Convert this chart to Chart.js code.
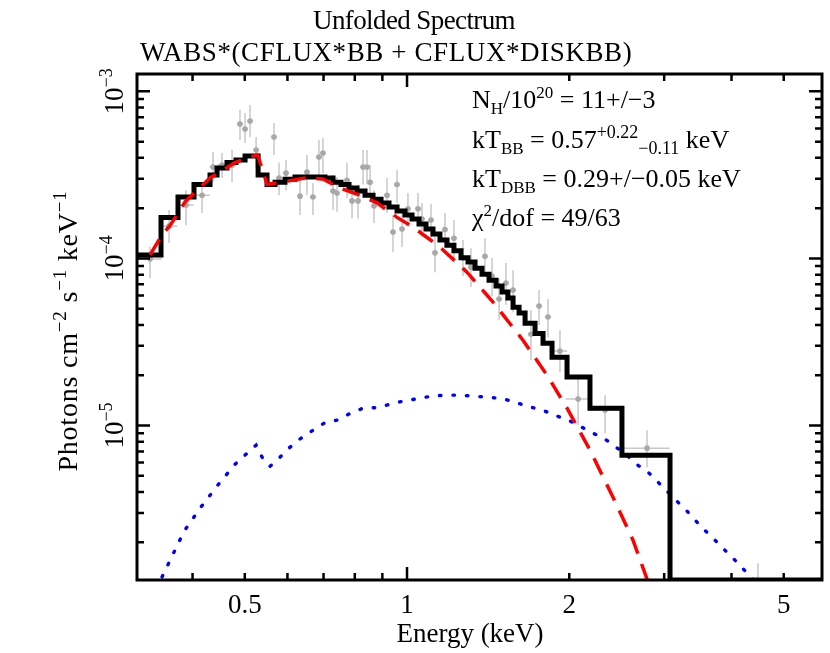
<!DOCTYPE html>
<html>
<head>
<meta charset="utf-8">
<title>Unfolded Spectrum</title>
<script src="https://cdn.jsdelivr.net/npm/chart.js@4.4.0/dist/chart.umd.min.js"></script>
<style>
    html, body { margin: 0; padding: 0; background: #ffffff; }
    canvas { display: block; }
</style>
</head>
<body>
<canvas id="spectrum-chart" width="830" height="653"></canvas>
<script>
// Data points (keV, photons cm^-2 s^-1 keV^-1)
var dataE = [0.3336, 0.3618, 0.3890, 0.4166, 0.4366, 0.4536, 0.4735, 0.4899, 0.5006, 0.5114,
    0.5248, 0.5665, 0.5788, 0.5963, 0.6331, 0.6521, 0.6690, 0.6864, 0.6983, 0.7291,
    0.7415, 0.7738, 0.7906, 0.8111, 0.8288, 0.8428, 0.8540, 0.8685, 0.9182, 0.9419,
    0.9582, 0.9789, 1.004, 1.048, 1.066, 1.108, 1.127, 1.176, 1.222, 1.270,
    1.314, 1.395, 1.438, 1.482, 1.526, 1.573, 1.698, 1.758, 1.826, 1.922,
    2.077, 2.331, 2.788, 4.479];
var dataEHalf = [0.017, 0.013, 0.013, 0.014, 0.0066, 0.0097, 0.009, 0.0064, 0.0065, 0.0066,
    0.0068, 0.0074, 0.0075, 0.0078, 0.0082, 0.0085, 0.0087, 0.0089, 0.0091, 0.0095,
    0.0096, 0.010, 0.010, 0.0105, 0.0108, 0.011, 0.011, 0.0113, 0.012, 0.0122,
    0.0125, 0.0127, 0.013, 0.0136, 0.0139, 0.0144, 0.0147, 0.0153, 0.0159, 0.0165,
    0.0171, 0.0181, 0.0187, 0.0193, 0.0198, 0.0204, 0.022, 0.0229, 0.0237, 0.062,
    0.106, 0.16, 0.285, 1.4];
var dataF = [9.91e-5, 1.56e-4, 2.09e-4, 2.39e-4, 3.52e-4, 3.62e-4, 3.62e-4, 6.37e-4, 5.95e-4, 6.65e-4,
    4.46e-4, 5.33e-4, 3.03e-4, 3.24e-4, 2.36e-4, 3.29e-4, 2.33e-4, 4.05e-4, 4.28e-4, 2.53e-4,
    2.46e-4, 2.94e-4, 2.21e-4, 2.21e-4, 3.52e-4, 3.52e-4, 2.86e-4, 2.06e-4, 2.39e-4, 1.44e-4,
    2.77e-4, 1.50e-4, 1.98e-4, 1.98e-4, 1.72e-4, 1.70e-4, 1.08e-4, 1.49e-4, 1.32e-4, 1.005e-4,
    8.87e-5, 1.03e-4, 7.84e-5, 5.71e-5, 7.13e-5, 6.47e-5, 3.52e-5, 5.19e-5, 4.46e-5, 2.79e-5,
    1.44e-5, 1.24e-5, 7.32e-6, 6.8e-7];
var dataLo = [7.62e-5, 1.24e-4, 1.58e-4, 1.87e-4, 2.86e-4, 3.03e-4, 2.86e-4, 5.11e-4, 4.91e-4, 5.33e-4,
    3.52e-4, 4.16e-4, 2.39e-4, 2.56e-4, 1.82e-4, 2.39e-4, 1.82e-4, 2.94e-4, 3.24e-4, 1.95e-4,
    1.90e-4, 2.30e-4, 1.74e-4, 1.74e-4, 2.77e-4, 2.77e-4, 2.24e-4, 1.63e-4, 1.87e-4, 1.09e-4,
    2.15e-4, 1.17e-4, 1.56e-4, 1.56e-4, 1.34e-4, 1.32e-4, 8.28e-5, 1.15e-4, 1.005e-4, 7.84e-5,
    6.74e-5, 7.84e-5, 5.95e-5, 4.27e-5, 5.26e-5, 4.77e-5, 2.46e-5, 3.99e-5, 3.38e-5, 2.09e-5,
    1.005e-5, 9.00e-6, 5.63e-6, 1e-7];
var dataHi = [1.17e-4, 1.95e-4, 2.56e-4, 2.77e-4, 4.33e-4, 4.28e-4, 4.46e-4, 7.73e-4, 7.42e-4, 8.29e-4,
    5.33e-4, 6.46e-4, 3.75e-4, 3.88e-4, 2.94e-4, 4.16e-4, 2.83e-4, 5.11e-4, 5.26e-4, 3.16e-4,
    3.07e-4, 3.75e-4, 2.77e-4, 2.77e-4, 4.46e-4, 4.46e-4, 3.62e-4, 2.56e-4, 3.03e-4, 1.82e-4,
    3.38e-4, 1.90e-4, 2.46e-4, 2.46e-4, 2.15e-4, 2.12e-4, 1.42e-4, 1.87e-4, 1.70e-4, 1.29e-4,
    1.15e-4, 1.32e-4, 1.005e-4, 7.62e-5, 9.38e-5, 8.51e-5, 4.91e-5, 6.47e-5, 5.71e-5, 3.72e-5,
    2.00e-5, 1.52e-5, 9.37e-6, 1.50e-6];

// Total model, one value per channel (bin edges in keV)
var modelEdges = [0.3155, 0.3496, 0.3759, 0.4025, 0.4310, 0.4441, 0.4634, 0.4816, 0.5006, 0.5293,
    0.5499, 0.5690, 0.5938, 0.6196, 0.6466, 0.6748, 0.7043, 0.7291, 0.7541, 0.7805,
    0.8077, 0.8357, 0.8649, 0.8950, 0.9260, 0.9582, 0.9915, 1.0216, 1.0526, 1.0845,
    1.1174, 1.151, 1.1863, 1.222, 1.2594, 1.2977, 1.3371, 1.3776, 1.4195, 1.4627,
    1.501, 1.539, 1.573, 1.614, 1.656, 1.728, 1.788, 1.858, 1.981, 2.185,
    2.505, 3.076, 5.888];
var modelVals = [1.05e-4, 1.76e-4, 2.33e-4, 2.77e-4, 3.16e-4, 3.48e-4, 3.75e-4, 3.88e-4, 4.10e-4, 3.16e-4,
    2.77e-4, 2.86e-4, 2.98e-4, 3.07e-4, 3.07e-4, 3.07e-4, 3.03e-4, 2.86e-4, 2.77e-4, 2.64e-4,
    2.53e-4, 2.39e-4, 2.26e-4, 2.15e-4, 2.03e-4, 1.92e-4, 1.82e-4, 1.72e-4, 1.61e-4, 1.50e-4,
    1.40e-4, 1.29e-4, 1.20e-4, 1.11e-4, 1.01e-4, 9.51e-5, 8.75e-5, 8.05e-5, 7.41e-5, 6.84e-5,
    6.30e-5, 5.79e-5, 5.10e-5, 4.71e-5, 4.10e-5, 3.55e-5, 3.11e-5, 2.56e-5, 1.95e-5, 1.27e-5,
    6.65e-6, 1.19e-6];

// BB component (red dashed)
var bbE = [0.3336, 0.3510, 0.3634, 0.3744, 0.3874, 0.4077, 0.4310, 0.4497, 0.4796, 0.5114,
    0.528, 0.538, 0.5499, 0.5642, 0.5989, 0.6466, 0.6983, 0.7291, 0.7607, 0.8181,
    0.8796, 0.9582, 1.026, 1.151, 1.292, 1.444, 1.641, 1.819, 1.981, 2.185,
    2.411, 2.626, 2.800, 2.947];
var bbF = [1.05e-4, 1.38e-4, 1.58e-4, 1.82e-4, 2.18e-4, 2.56e-4, 3.03e-4, 3.29e-4, 3.75e-4, 4.05e-4,
    4.16e-4, 3.48e-4, 2.77e-4, 2.81e-4, 2.90e-4, 3.03e-4, 2.99e-4, 2.77e-4, 2.60e-4, 2.39e-4,
    2.15e-4, 1.76e-4, 1.54e-4, 1.17e-4, 8.28e-5, 5.48e-5, 3.24e-5, 2.00e-5, 1.27e-5, 7.13e-6,
    3.72e-6, 2.06e-6, 1.16e-6, 7.2e-7];

// DISKBB component (blue dotted)
var dbbE = [0.3336, 0.3480, 0.3664, 0.3858, 0.4130, 0.4441, 0.4796, 0.5248, 0.5383, 0.5569,
    0.5813, 0.6066, 0.6358, 0.6690, 0.7043, 0.7447, 0.7839, 0.8288, 0.8796, 0.9299,
    0.983, 1.048, 1.113, 1.176, 1.249, 1.326, 1.407, 1.501, 1.586, 1.677,
    1.780, 1.882, 1.990, 2.094, 2.213, 2.331, 2.442, 2.559, 2.683, 2.812,
    2.935, 3.062, 3.196, 3.336, 3.467, 3.618, 3.776, 3.940, 4.113, 4.273,
    4.460];
var dbbF = [8.9e-7, 1.17e-6, 1.65e-6, 2.33e-6, 3.20e-6, 4.34e-6, 5.87e-6, 7.63e-6, 6.47e-6, 5.70e-6,
    6.47e-6, 7.42e-6, 8.40e-6, 9.37e-6, 1.04e-5, 1.08e-5, 1.18e-5, 1.27e-5, 1.28e-5, 1.34e-5,
    1.40e-5, 1.45e-5, 1.50e-5, 1.52e-5, 1.52e-5, 1.50e-5, 1.48e-5, 1.45e-5, 1.38e-5, 1.30e-5,
    1.24e-5, 1.15e-5, 1.08e-5, 9.91e-6, 9.00e-6, 8.28e-6, 7.42e-6, 6.65e-6, 5.78e-6, 5.19e-6,
    4.52e-6, 3.94e-6, 3.43e-6, 2.99e-6, 2.60e-6, 2.26e-6, 1.98e-6, 1.72e-6, 1.50e-6, 1.31e-6,
    1.12e-6];

// Axes
var xTickVals = [0.5, 1, 2, 5];
var xTickLabels = ['0.5', '1', '2', '5'];
var xMinorVals = [0.4, 0.5, 0.6, 0.7, 0.8, 0.9, 2, 3, 4, 5];
var xMajorVals = [1];
var yExponents = [-3, -4, -5];

var X_MIN = 0.3155, X_MAX = 5.888;
var Y_MIN = 1.19e-6, Y_MAX = 1.27e-3;
var SERIF = '"Liberation Serif", "DejaVu Serif", serif';

function pts(xs, ys) {
    return xs.map(function (x, i) { return { x: x, y: ys[i] }; });
}

// draw a run of text pieces: [text, size, yOffset]
function drawRich(ctx, x, y, parts, align, spacing) {
    var w = 0;
    ctx.letterSpacing = (spacing || 0) + 'px';
    parts.forEach(function (p) {
        ctx.font = p[1] + 'px ' + SERIF;
        w += ctx.measureText(p[0]).width;
    });
    var cx = align === 'center' ? x - w / 2 : x;
    ctx.textAlign = 'left';
    ctx.textBaseline = 'alphabetic';
    parts.forEach(function (p) {
        ctx.font = p[1] + 'px ' + SERIF;
        ctx.fillText(p[0], cx, y + (p[2] || 0));
        cx += ctx.measureText(p[0]).width;
    });
    ctx.letterSpacing = '0px';
}

// Error bars under the points
var errorBars = {
    id: 'errorBars',
    beforeDatasetsDraw: function (chart) {
        var ctx = chart.ctx, xs = chart.scales.x, ys = chart.scales.y, a = chart.chartArea;
        ctx.save();
        ctx.beginPath();
        ctx.rect(a.left, a.top, a.right - a.left, a.bottom - a.top);
        ctx.clip();
        ctx.strokeStyle = '#c8c8c8';
        ctx.lineWidth = 1.5;
        for (var i = 0; i < dataE.length; i++) {
            var px = xs.getPixelForValue(dataE[i]);
            var py = ys.getPixelForValue(dataF[i]);
            ctx.beginPath();
            ctx.moveTo(px, ys.getPixelForValue(dataLo[i]));
            ctx.lineTo(px, ys.getPixelForValue(dataHi[i]));
            ctx.moveTo(xs.getPixelForValue(dataE[i] - dataEHalf[i]), py);
            ctx.lineTo(xs.getPixelForValue(dataE[i] + dataEHalf[i]), py);
            ctx.stroke();
        }
        ctx.restore();
    }
};

// Frame, ticks and all the labels
var frame = {
    id: 'frame',
    afterDraw: function (chart) {
        var ctx = chart.ctx, xs = chart.scales.x, ys = chart.scales.y, a = chart.chartArea;
        ctx.save();
        ctx.strokeStyle = '#000000';
        ctx.fillStyle = '#000000';

        // ticks
        ctx.lineWidth = 2.5;
        ctx.beginPath();
        function xTick(v, len) {
            var px = xs.getPixelForValue(v);
            ctx.moveTo(px, a.bottom); ctx.lineTo(px, a.bottom - len);
            ctx.moveTo(px, a.top); ctx.lineTo(px, a.top + len);
        }
        function yTick(v, len) {
            var py = ys.getPixelForValue(v);
            ctx.moveTo(a.left, py); ctx.lineTo(a.left + len, py);
            ctx.moveTo(a.right, py); ctx.lineTo(a.right - len, py);
        }
        xMinorVals.forEach(function (v) { xTick(v, 7); });
        xMajorVals.forEach(function (v) { xTick(v, 13); });
        for (var e = -6; e <= -3; e++) {
            for (var k = 1; k <= 9; k++) {
                var v = k * Math.pow(10, e);
                if (v < Y_MIN || v > Y_MAX) continue;
                yTick(v, k === 1 ? 13 : 7);
            }
        }
        ctx.stroke();

        // frame
        ctx.lineWidth = 3;
        ctx.strokeRect(a.left, a.top, a.right - a.left, a.bottom - a.top);

        // x tick labels
        xTickVals.forEach(function (v, i) {
            drawRich(ctx, xs.getPixelForValue(v), 613, [[xTickLabels[i], 27, 0]], 'center');
        });

        // y tick labels (rotated)
        yExponents.forEach(function (e) {
            ctx.save();
            ctx.translate(123, ys.getPixelForValue(Math.pow(10, e)));
            ctx.rotate(-Math.PI / 2);
            drawRich(ctx, 0, 0, [['10', 27, 0], ['\u2212' + (-e), 18, -11]], 'center');
            ctx.restore();
        });

        // axis titles
        drawRich(ctx, 470, 642, [['Energy (keV)', 27, 0]], 'center');
        ctx.save();
        ctx.translate(77, 331);
        ctx.rotate(-Math.PI / 2);
        drawRich(ctx, 0, 0, [['Photons cm', 28, 0], ['\u22122', 19, -11], [' s', 28, 0],
            ['\u22121', 19, -11], [' keV', 28, 0], ['\u22121', 19, -11]], 'center', 0.8);
        ctx.restore();

        // titles
        drawRich(ctx, 414, 29, [['Unfolded Spectrum', 27, 0]], 'center', -0.6);
        drawRich(ctx, 140, 61, [['WABS*(CFLUX*BB + CFLUX*DISKBB)', 27, 0]], 'left', 0.6);

        // fit results
        drawRich(ctx, 472, 108, [['N', 26, 0], ['H', 17, 6], ['/10', 26, 0], ['20', 17, -10],
            [' = 11+/\u22123', 26, 0]], 'left');
        drawRich(ctx, 472, 148, [['kT', 26, 0], ['BB', 17, 6], [' = 0.57', 26, 0], ['+0.22', 18, -10],
            ['\u22120.11', 18, 6], [' keV', 26, 0]], 'left');
        drawRich(ctx, 472, 187, [['kT', 26, 0], ['DBB', 17, 6], [' = 0.29+/\u22120.05 keV', 26, 0]], 'left');
        drawRich(ctx, 472, 226, [['\u03c7', 26, 0], ['2', 17, -10], ['/dof = 49/63', 26, 0]], 'left');
        ctx.restore();
    }
};

// Chart Data
var modelPts = pts(modelEdges.slice(0, modelVals.length), modelVals);
modelPts.push({ x: modelEdges[modelEdges.length - 1], y: modelVals[modelVals.length - 1] });

var chartData = {
    datasets: [{
        label: 'BB',
        data: pts(bbE, bbF),
        showLine: true,
        borderColor: '#ff0000',
        borderWidth: 3.5,
        borderDash: [18, 11],
        pointRadius: 0
    }, {
        label: 'model',
        data: modelPts,
        showLine: true,
        stepped: 'before',
        borderColor: '#000000',
        borderWidth: 5,
        borderJoinStyle: 'miter',
        pointRadius: 0
    }, {
        label: 'DISKBB',
        data: pts(dbbE, dbbF),
        showLine: true,
        borderColor: '#0000ff',
        borderWidth: 3.4,
        borderDash: [1.5, 12],
        borderCapStyle: 'round',
        pointRadius: 0
    }, {
        label: 'data',
        data: pts(dataE, dataF),
        showLine: false,
        pointRadius: 2.8,
        pointBackgroundColor: '#a8a8a8',
        pointBorderWidth: 0
    }]
};

// Chart Options
var chartOptions = {
    responsive: false,
    animation: false,
    layout: { padding: { left: 137, right: 8, top: 74, bottom: 73 } },
    plugins: { legend: { display: false }, tooltip: { enabled: false }, title: { display: false } },
    scales: {
        x: { type: 'logarithmic', bounds: 'data', min: X_MIN, max: X_MAX, display: false },
        y: { type: 'logarithmic', bounds: 'data', min: Y_MIN, max: Y_MAX, display: false }
    }
};

var config = {
    type: 'scatter',
    options: chartOptions,
    data: chartData,
    plugins: [errorBars, frame]
};

// Create the chart
var ctx = document.getElementById('spectrum-chart').getContext('2d');
var spectrumChart = new Chart(ctx, config);
</script>
</body>
</html>
